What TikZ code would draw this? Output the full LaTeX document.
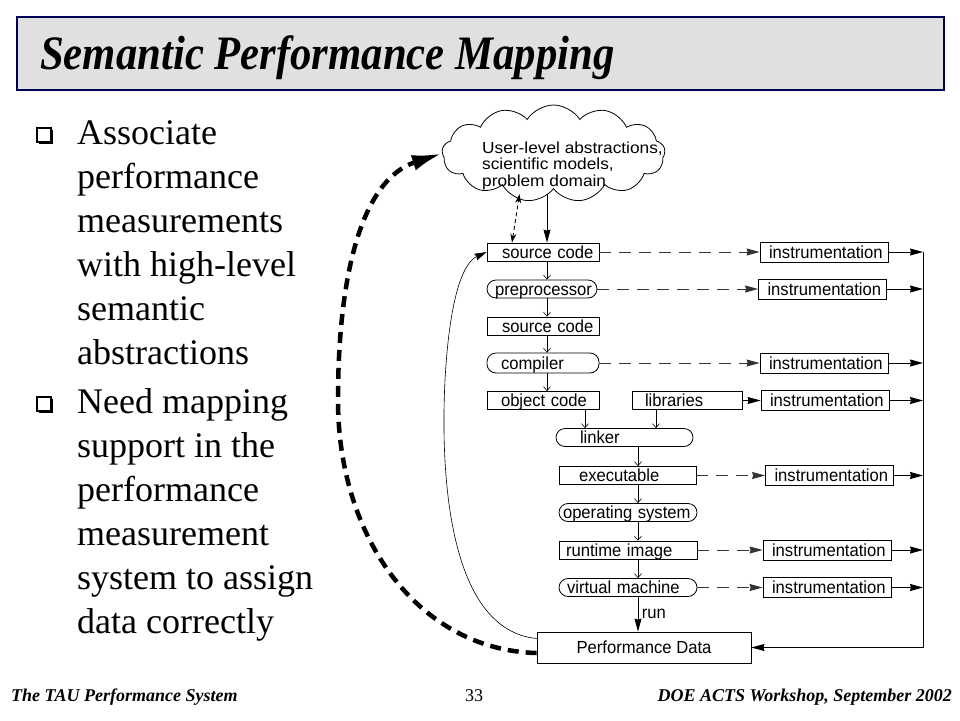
\documentclass[tikz,border=0pt]{standalone}
\usepackage{fontspec}
\setmainfont{Liberation Serif}
\newfontfamily\diagfont{Liberation Sans}
\usetikzlibrary{arrows.meta,shapes.symbols,shadows}
\newcommand\diagtext{\diagfont\fontsize{17.5}{16.5}\selectfont}
\newcommand\sq[1]{\scalebox{0.95}[1]{#1}}
\newcommand\lbl[1]{\rlap{\sq{#1}}}
\begin{document}
\begin{tikzpicture}[x=1pt, y=-1pt,
    stage/.style={draw, line width=0.8, inner ysep=0, minimum height=18, text height=12, text depth=0, align=left, font=\diagtext},
    proc/.style={stage, rounded corners=9},
    instr/.style={stage, inner xsep=9, text width=110, minimum height=20},
    flow/.style={line width=0.6, -{Straight Barb[length=4,width=7]}},
    probe/.style={line width=0.9, black!80, dash pattern=on 12pt off 8pt, -{Stealth[length=13,width=7,inset=1]}},
    feed/.style={line width=0.9, -{Stealth[length=13,width=7,inset=1]}},
    bulletbox/.style={draw, fill=white, line width=1.1, minimum size=14, inner sep=0,
      drop shadow={shadow xshift=2.4pt, shadow yshift=-2.4pt, opacity=1, fill=black}}]
    \useasboundingbox (0,0) rectangle (960,720);
    \fill[black!12] (17,17) rectangle (944,90);
    \draw[blue!35!black, line width=1.2] (17,17) rectangle (944,90);
    \node[anchor=base west, inner sep=0, font=\bfseries\itshape\fontsize{48}{48}\selectfont] (title) at (40,69) {\scalebox{0.89}[1]{Semantic Performance Mapping}};
    \node[bulletbox] (bul1) at (44,135) {};
    \node[bulletbox] (bul2) at (44,404) {};
    \node[anchor=base west, align=left, inner sep=0, font=\fontsize{36}{44}\selectfont] (pt1) at (77,364) {Associate\\performance\\measurements\\with high-level\\semantic\\abstractions};
    \node[anchor=base west, align=left, inner sep=0, font=\fontsize{36}{44}\selectfont] (pt2) at (77,633) {Need mapping\\support in the\\performance\\measurement\\system to assign\\data correctly};
    \node[cloud, draw, line width=0.8, cloud puffs=13, cloud puff arc=115, aspect=2.3, minimum width=223, minimum height=97] (cloud) at (553.5,153.5) {};
    \node[anchor=base west, align=left, inner sep=0, font=\diagfont\fontsize{16}{16.5}\selectfont] (cloudtxt) at (482,186) {\scalebox{1.08}[1]{User-level abstractions,}\\\scalebox{1.08}[1]{scientific models,}\\\scalebox{1.08}[1]{problem domain}};
    \node[stage, inner xsep=15, text width=82] (src1) at (543,252) {\lbl{source code}};
    \node[proc, inner xsep=8, text width=94] (pre) at (542,289) {\lbl{preprocessor}};
    \node[stage, inner xsep=15, text width=82] (src2) at (543,326) {\lbl{source code}};
    \node[proc, inner xsep=14, text width=84, minimum height=20] (comp) at (543,363) {\lbl{compiler}};
    \node[stage, inner xsep=14, text width=84] (obj) at (543,400.5) {\lbl{object code}};
    \node[stage, inner xsep=13, text width=84] (lib) at (687,400.5) {\lbl{libraries}};
    \node[proc, inner xsep=24, text width=89] (link) at (624.5,437.5) {\lbl{linker}};
    \node[stage, inner xsep=20, text width=97] (exe) at (627.5,475.5) {\lbl{executable}};
    \node[proc, inner xsep=4, text width=130] (os) at (628,512.5) {\lbl{operating system}};
    \node[stage, inner xsep=7, text width=124] (rti) at (628,550) {\lbl{runtime image}};
    \node[proc, inner xsep=8, text width=122] (vm) at (628,587.5) {\lbl{virtual machine}};
    \node[stage, align=center, minimum width=214, minimum height=31] (perf) at (644,647.5) {\sq{Performance Data}};
    \foreach \n/\x/\y in {i1/824/252, i2/822.5/289, i3/824/363, i4/825/400.5, i5/829.5/475.5, i6/827/550, i7/827/587.5}
        \node[instr] (\n) at (\x,\y) {\lbl{instrumentation}};
    \coordinate (spine) at (547,0);
    \coordinate (runcol) at (638,0);
    \coordinate (bus) at (923,252);
    \draw[feed] ([yshift=-5]spine |- cloud.south) -- (spine |- src1.north);
    \draw[line width=0.9, dash pattern=on 4pt off 3pt, {Stealth[length=9,width=6]}-{Stealth[length=9,width=6]}] ([xshift=-31]src1.north) -- ([xshift=-34,yshift=-5]cloud.south);
    \draw[flow] (src1.south -| spine) -- (pre.north -| spine);
    \draw[flow] (pre.south -| spine) -- (src2.north -| spine);
    \draw[flow] (src2.south -| spine) -- (comp.north -| spine);
    \draw[flow] (comp.south -| spine) -- (obj.north -| spine);
    \draw[flow] ([xshift=42]obj.south) -- ([xshift=42]obj.south |- link.north);
    \draw[flow] ([xshift=-31]lib.south) -- ([xshift=-31]lib.south |- link.north);
    \draw[flow] (link.south -| runcol) -- (exe.north -| runcol);
    \draw[flow] (exe.south -| runcol) -- (os.north -| runcol);
    \draw[flow] (os.south -| runcol) -- (rti.north -| runcol);
    \draw[flow] (rti.south -| runcol) -- (vm.north -| runcol);
    \draw[feed] (vm.south -| runcol) -- node[right, font=\diagtext] (runlbl) {\sq{run}} (perf.north -| runcol);
    \draw[probe] (src1.east) -- (i1.west);
    \draw[probe] (pre.east) -- (i2.west);
    \draw[probe] (comp.east) -- (i3.west);
    \draw[feed] (lib.east) -- (i4.west);
    \draw[probe] (exe.east) -- (i5.west);
    \draw[probe] (rti.east) -- (i6.west);
    \draw[probe] (vm.east) -- (i7.west);
    \foreach \n in {i1,i2,i3,i4,i5,i6,i7}
        \draw[feed] (\n.east) -- (\n.east -| bus);
    \draw[feed] (bus) -- (bus |- perf.east) -- (perf.east);
    \draw[line width=0.6, -{Stealth[length=12,width=7,inset=1]}] ([yshift=9]perf.west) .. controls (450,630) and (440,480) .. (445,380) .. controls (450,290) and (465,262) .. (src1.west);
    \draw[line width=4.5, dash pattern=on 11pt off 7pt, -{Latex[length=30,width=16]}] ([yshift=-5.5]perf.west) .. controls (420,650) and (338,540) .. (338,400) .. controls (338,280) and (360,180) .. (cloud.west);
    \node[anchor=base west, inner sep=0, font=\bfseries\itshape\fontsize{18}{18}\selectfont] (foot1) at (11,701) {The TAU Performance System};
    \node[anchor=base, inner sep=0, font=\fontsize{18}{18}\selectfont] (page) at (474,701) {33};
    \node[anchor=base east, inner sep=0, font=\bfseries\itshape\fontsize{18}{18}\selectfont] (foot2) at (952,701) {DOE ACTS Workshop, September 2002};
\end{tikzpicture}
\end{document}
